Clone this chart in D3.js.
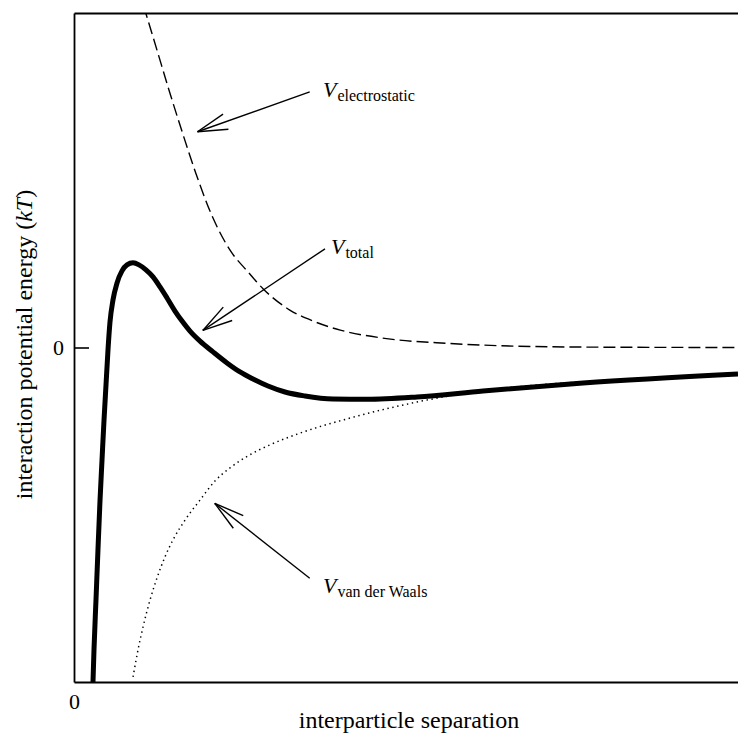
<!DOCTYPE html>
<html>
<head>
<meta charset="utf-8">
<script src="https://cdn.jsdelivr.net/npm/d3@7"></script>
<style>
  body { margin: 0; background: #fff; }
  text { font-family: "Liberation Serif", "Times New Roman", serif; fill: #000; }
</style>
</head>
<body>
<div id="chart"></div>
<script>
// curves (x: separation, arbitrary units; y: energy in kT, arbitrary units)
const electroX = [1.05, 1.25, 1.43, 1.63, 1.84, 2.08, 2.35, 2.62, 2.85, 3.25, 3.60, 4.01, 4.65, 5.66, 6.67, 7.92, 10];
const electroY = [10.2, 8.89, 7.70, 6.44, 5.18, 3.93, 2.91, 2.26, 1.75, 1.12, 0.79, 0.52, 0.28, 0.12, 0.04, 0.01, 0];

const totalX = [0.286, 0.301, 0.331, 0.361, 0.392, 0.422, 0.452, 0.482, 0.512, 0.542, 0.587, 0.648, 0.723, 0.798, 0.889, 0.979, 1.084, 1.19, 1.295, 1.401, 1.521, 1.627, 1.747, 1.898, 2.093, 2.304, 2.50, 2.696, 2.922, 3.178, 3.479, 3.901, 4.413, 5.166, 6.16, 7.666, 10];
const totalY = [-10.0, -9.04, -7.55, -6.05, -4.56, -3.36, -2.17, -1.12, -0.07, 0.76, 1.42, 1.93, 2.29, 2.47, 2.53, 2.47, 2.32, 2.11, 1.81, 1.48, 1.09, 0.79, 0.49, 0.19, -0.13, -0.46, -0.73, -0.94, -1.15, -1.33, -1.45, -1.54, -1.55, -1.48, -1.30, -1.06, -0.79];

const vdwX = [0.889, 0.964, 1.039, 1.145, 1.25, 1.37, 1.491, 1.672, 1.898, 2.123, 2.349, 2.62, 2.952, 3.404, 4.157, 5.166, 5.919, 7.169, 8.675, 10];
const vdwY = [-9.85, -9.04, -8.36, -7.55, -6.89, -6.26, -5.75, -5.16, -4.56, -3.99, -3.60, -3.24, -2.91, -2.56, -2.11, -1.63, -1.36, -1.09, -0.95, -0.80];

// annotations: label anchor, arrow tail, arrow tip (data units)
const labelNames = ["electrostatic", "total", "van der Waals"];
const labelX = [3.75, 3.87, 3.75];
const labelY = [7.50, 2.80, -7.33];
const tailX = [3.55, 3.78, 3.55];
const tailY = [7.64, 2.95, -6.90];
const tipX = [1.86, 1.94, 2.12];
const tipY = [6.45, 0.51, -4.66];

const yTicks = [0];
const xTicks = [0];

const width = 738;
const height = 736;
const margin = { top: 13, right: 0, bottom: 54, left: 74 };

const x = d3.scaleLinear().domain([0, 10]).range([margin.left, width - margin.right]);
const y = d3.scaleLinear().domain([-10, 10]).range([height - margin.bottom, margin.top]);

const svg = d3.select("#chart")
  .append("svg")
  .attr("width", width)
  .attr("height", height);

svg.append("clipPath")
  .attr("id", "plot")
  .append("rect")
  .attr("x", margin.left)
  .attr("y", margin.top)
  .attr("width", width - margin.left - margin.right)
  .attr("height", height - margin.top - margin.bottom);

const line = d3.line()
  .x(d => x(d[0]))
  .y(d => y(d[1]))
  .curve(d3.curveMonotoneX);

const curves = svg.append("g").attr("clip-path", "url(#plot)").attr("fill", "none").attr("stroke", "#000");

curves.append("path")
  .attr("d", line(d3.zip(electroX, electroY)))
  .attr("stroke-width", 1.4)
  .attr("stroke-dasharray", "12,5");

curves.append("path")
  .attr("d", line(d3.zip(vdwX, vdwY)))
  .attr("stroke-width", 1.5)
  .attr("stroke-dasharray", "1.4,3.6");

curves.append("path")
  .attr("d", line(d3.zip(totalX, totalY)))
  .attr("stroke-width", 5)
  .attr("stroke-linejoin", "round");

// axes / frame
const yAxis = svg.append("g")
  .attr("transform", `translate(${margin.left},0)`)
  .call(d3.axisLeft(y).tickValues(yTicks).tickFormat(d3.format("d")).tickSize(-15).tickSizeOuter(0).tickPadding(10));

const xAxis = svg.append("g")
  .attr("transform", `translate(0,${height - margin.bottom})`)
  .call(d3.axisBottom(x).tickValues(xTicks).tickFormat(d3.format("d")).tickSize(0).tickPadding(11));

const topAxis = svg.append("g")
  .attr("transform", `translate(0,${margin.top})`)
  .call(d3.axisTop(x).tickValues([]).tickSizeOuter(0));

[yAxis, xAxis, topAxis].forEach(a => {
  a.select(".domain").attr("stroke-width", 1.8);
  a.selectAll(".tick line").attr("stroke-width", 1.6);
  a.selectAll(".tick text")
    .attr("font-family", "Liberation Serif")
    .attr("font-size", 22);
});

// axis titles
svg.append("text")
  .attr("x", 409)
  .attr("y", 728)
  .attr("text-anchor", "middle")
  .attr("font-size", 24)
  .text("interparticle separation");

const yTitle = svg.append("text")
  .attr("transform", `translate(32,${y(0) - 3}) rotate(-90)`)
  .attr("text-anchor", "middle")
  .attr("font-size", 24);
yTitle.append("tspan").text("interaction potential energy (");
yTitle.append("tspan").attr("font-style", "italic").text("kT");
yTitle.append("tspan").text(")");

// arrows + labels
const arrows = svg.append("g").attr("stroke", "#000").attr("stroke-width", 1.4).attr("fill", "none");
const barbLen = 31;
const barbAngle = 15 * Math.PI / 180;

labelNames.forEach((name, i) => {
  const x0 = x(tailX[i]), y0 = y(tailY[i]);
  const x1 = x(tipX[i]), y1 = y(tipY[i]);
  arrows.append("line").attr("x1", x0).attr("y1", y0).attr("x2", x1).attr("y2", y1);
  const ang = Math.atan2(y0 - y1, x0 - x1);
  [-1, 1].forEach(s => {
    arrows.append("line")
      .attr("x1", x1).attr("y1", y1)
      .attr("x2", x1 + barbLen * Math.cos(ang + s * barbAngle))
      .attr("y2", y1 + barbLen * Math.sin(ang + s * barbAngle));
  });

  const t = svg.append("text")
    .attr("x", x(labelX[i]))
    .attr("y", y(labelY[i]))
    .attr("font-size", 22);
  t.append("tspan").attr("font-style", "italic").text("V");
  t.append("tspan").attr("font-size", 16).attr("dy", 4).attr("dx", 1).text(name);
});
</script>
</body>
</html>
